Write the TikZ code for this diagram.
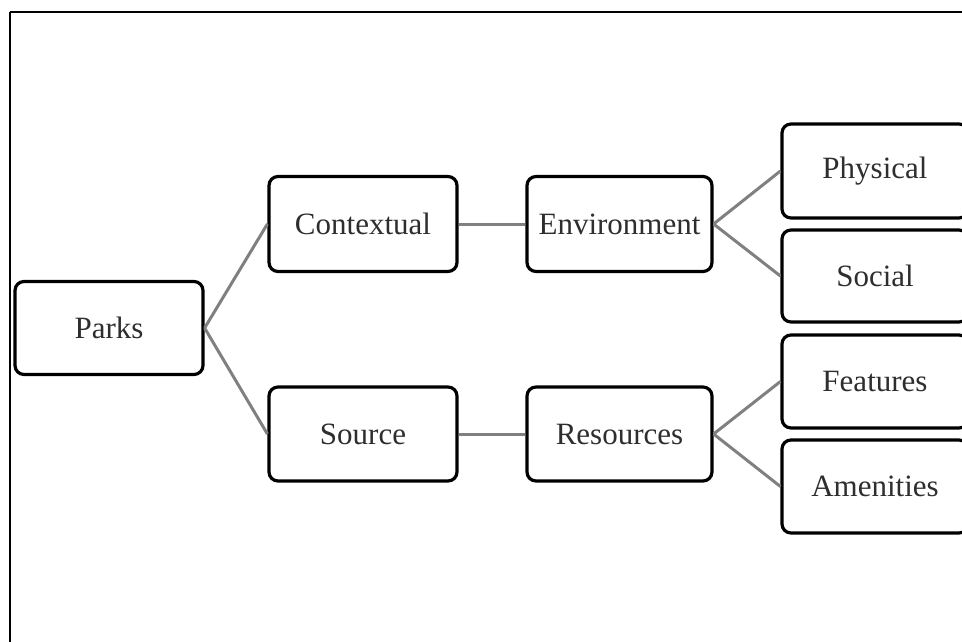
\documentclass[tikz,border=0pt]{standalone}
\usepackage{fontspec}
\setmainfont{Liberation Serif}
\begin{document}
\begin{tikzpicture}[x=1pt,y=-1pt,
  box/.style={draw=black, line width=3.2pt, rounded corners=9pt, fill=white, inner sep=0pt, text=black!82, font=\fontsize{31}{36}\selectfont},
  link/.style={draw=black!50, line width=3pt}]
\useasboundingbox (0,0) rectangle (962,641);
\clip (0,0) rectangle (962,641);
\draw[line width=2pt] (9.5,12) -- (975,12);
\draw[line width=2pt] (9.5,12) -- (9.5,660);
% nodes
\node[box, minimum width=188pt, minimum height=93pt] (parks) at (109,328) {Parks};
\node[box, minimum width=188pt, minimum height=95pt] (ctx) at (363,224) {Contextual};
\node[box, minimum width=185pt, minimum height=95pt] (env) at (619.5,224) {Environment};
\node[box, minimum width=188pt, minimum height=94pt] (src) at (363,434) {Source};
\node[box, minimum width=185pt, minimum height=94pt] (res) at (619.5,434) {Resources};
\node[box, minimum width=186pt, minimum height=94pt] (phy) at (875,171) {Physical};
\node[box, minimum width=186pt, minimum height=92pt] (soc) at (875,276) {Social};
\node[box, minimum width=186pt, minimum height=93pt] (fea) at (875,381.5) {Features};
\node[box, minimum width=186pt, minimum height=93pt] (ame) at (875,486.5) {Amenities};
% connectors
\draw[link] (parks.east) -- (ctx.west);
\draw[link] (parks.east) -- (src.west);
\draw[link] (ctx.east) -- (env.west);
\draw[link] (env.east) -- (phy.west);
\draw[link] (env.east) -- (soc.west);
\draw[link] (src.east) -- (res.west);
\draw[link] (res.east) -- (fea.west);
\draw[link] (res.east) -- (ame.west);
\end{tikzpicture}
\end{document}
